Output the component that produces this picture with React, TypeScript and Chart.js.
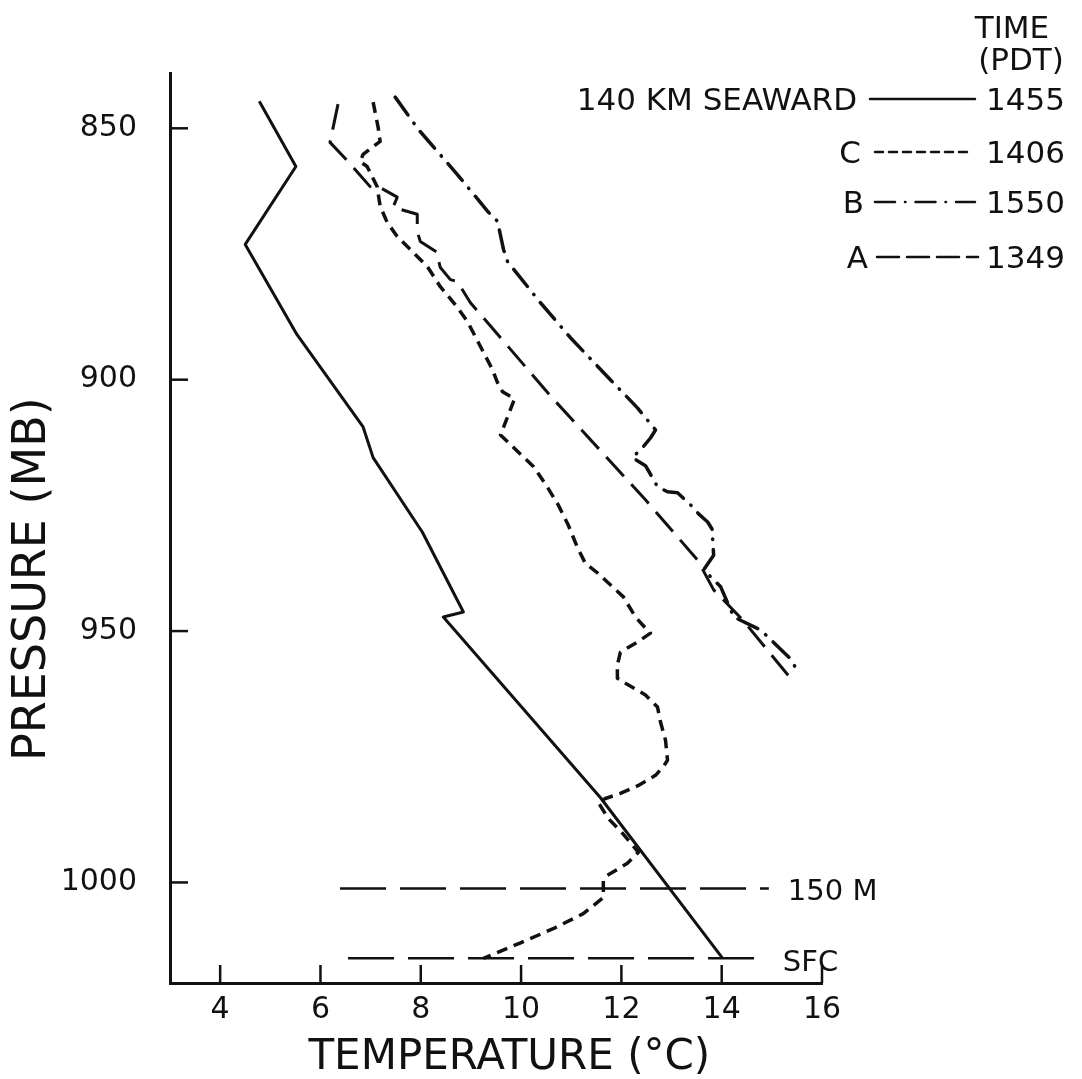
import React, { useEffect, useRef } from "react";
import { Chart, registerables } from "chart.js";

Chart.register(...registerables);

// ---- axes ----
const xTickValues = [4, 6, 8, 10, 12, 14, 16];
const yTickValues = [850, 900, 950, 1000];

// ---- 140 KM SEAWARD (1455 PDT), solid ----
const seawardTemp = [4.78, 5.51, 4.5, 5.53, 6.85, 7.05, 8.03, 8.85, 8.45, 11.58, 14.02];
const seawardPres = [844.6, 857.6, 873.1, 891.0, 909.4, 915.5, 930.3, 946.2, 947.2, 983.1, 1015.1];

// ---- C (1406 PDT), short dashes ----
const cTemp = [
  7.05, 7.15, 7.19, 6.85, 6.79, 6.93, 7.13, 7.19, 7.33, 7.53,
  7.79, 8.13, 8.39, 8.69, 8.93, 9.19, 9.43, 9.53, 9.63, 9.87,
  9.59, 9.85, 10.25, 10.52, 10.74, 10.94, 11.12, 11.28, 11.52, 11.78,
  12.04, 12.28, 12.48, 12.58, 12.32, 11.98, 11.92, 11.92, 12.08, 12.48,
  12.72, 12.78, 12.88, 12.92, 12.84, 12.68, 12.34, 11.98, 11.68, 11.54,
  11.74, 12.02, 12.34, 12.12, 11.72, 11.64, 11.64, 11.64, 11.24, 10.64,
  9.99, 9.25,
];
const cPres = [
  844.8, 849.8, 852.6, 855.2, 856.6, 857.6, 861.6, 865.5, 868.7, 871.5,
  874.1, 877.5, 881.5, 885.1, 888.4, 893.4, 898.0, 900.6, 902.4, 903.8,
  911.0, 913.5, 917.3, 921.3, 924.9, 928.9, 933.3, 936.5, 938.4, 940.8,
  943.2, 947.2, 949.4, 950.4, 952.2, 954.2, 956.8, 959.4, 960.4, 962.7,
  965.1, 968.1, 971.7, 975.7, 976.9, 978.7, 980.7, 982.3, 983.3, 984.1,
  987.3, 990.2, 994.0, 996.2, 998.6, 999.6, 1001.2, 1003.0, 1006.2, 1009.2,
  1012.0, 1015.1,
];

// ---- B (1550 PDT), dash-dot ----
const bTemp = [
  7.49, 7.95, 8.73, 9.35, 9.53, 9.65, 9.73, 10.37, 10.98, 11.78,
  12.32, 12.68, 12.58, 12.44, 12.22, 12.48, 12.62, 12.72, 12.92, 13.12,
  13.38, 13.54, 13.72, 13.82, 13.82, 13.84, 13.64, 13.98, 14.24, 14.78,
  15.34, 15.51,
];
const bPres = [
  843.8, 850.2, 859.2, 866.7, 868.5, 874.1, 876.5, 884.5, 891.6, 900.0,
  905.6, 910.0, 911.6, 913.3, 915.5, 917.1, 919.5, 921.3, 922.3, 922.5,
  924.9, 926.7, 928.3, 929.9, 931.9, 934.9, 937.8, 941.2, 947.2, 949.8,
  955.2, 957.8,
];

// ---- A (1349 PDT), long dashes ----
const aTemp = [
  6.35, 6.19, 6.55, 6.99, 7.19, 7.53, 7.45, 7.93, 7.93, 7.99,
  8.33, 8.35, 8.39, 8.59, 8.73, 8.99, 10.62, 12.48, 13.52, 13.84,
  14.42, 15.44,
];
const aPres = [
  845.2, 852.8, 856.6, 861.6, 861.8, 863.7, 865.7, 867.1, 870.5, 872.5,
  874.7, 876.1, 877.7, 880.1, 880.5, 884.7, 903.6, 923.9, 935.9, 941.8,
  947.8, 960.2,
];

// ---- reference levels ----
const level150mTemp = [6.39, 14.94];
const level150mPres = 1001.2;
const levelSfcTemp = [6.55, 14.74];
const levelSfcPres = 1015.1;
const levelLabels = ["150 M", "SFC"];

// ---- legend ----
const legendLabels = ["140 KM SEAWARD", "C", "B", "A"];
const legendTimes = ["1455", "1406", "1550", "1349"];
const legendTitle = ["TIME", "(PDT)"];

const FONT = '"DejaVu Sans", sans-serif';
const INK = "#111";

const DASH_SOLID: number[] = [];
const DASH_C = [11, 7];
const DASH_B = [22, 10, 0.5, 10];
const DASH_A = [26, 11];
const DASH_LEVEL = [46, 14];

function zip(t: number[], p: number[]) {
  return t.map((x, i) => ({ x, y: p[i] }));
}

export default function App() {
  const ref = useRef<HTMLCanvasElement>(null);

  useEffect(() => {
    const canvas = ref.current;
    if (!canvas) return;

    const annotations = {
      id: "annotations",
      afterDraw(chart: any) {
        const { ctx, chartArea } = chart;
        const xs = chart.scales.x;
        const ys = chart.scales.y;
        ctx.save();
        ctx.strokeStyle = INK;
        ctx.fillStyle = INK;

        // inward tick marks
        ctx.lineWidth = 2.5;
        ctx.setLineDash([]);
        xTickValues.forEach((v) => {
          const px = xs.getPixelForValue(v);
          ctx.beginPath();
          ctx.moveTo(px, chartArea.bottom);
          ctx.lineTo(px, chartArea.bottom - 18);
          ctx.stroke();
        });
        yTickValues.forEach((v) => {
          const py = ys.getPixelForValue(v);
          ctx.beginPath();
          ctx.moveTo(chartArea.left, py);
          ctx.lineTo(chartArea.left + 18, py);
          ctx.stroke();
        });

        // level labels
        ctx.font = `29px ${FONT}`;
        ctx.textAlign = "left";
        ctx.textBaseline = "alphabetic";
        ctx.fillText(
          levelLabels[0],
          xs.getPixelForValue(level150mTemp[1]) + 19,
          ys.getPixelForValue(level150mPres) + 12
        );
        ctx.fillText(
          levelLabels[1],
          xs.getPixelForValue(levelSfcTemp[1]) + 24,
          ys.getPixelForValue(levelSfcPres) + 13
        );

        // legend
        ctx.font = `31px ${FONT}`;
        ctx.textAlign = "center";
        ctx.fillText(legendTitle[0], 1012, 38);
        ctx.fillText(legendTitle[1], 1021, 70);

        const rows = [
          { base: 110, lr: 857, x0: 870, x1: 975, dash: DASH_SOLID },
          { base: 163, lr: 861, x0: 875, x1: 967, dash: [8, 6] },
          { base: 213, lr: 864, x0: 875, x1: 975, dash: [20, 10, 0.5, 10] },
          { base: 268, lr: 868, x0: 877, x1: 978, dash: [22, 8] },
        ];
        rows.forEach((r, i) => {
          ctx.textAlign = "right";
          ctx.fillText(legendLabels[i], r.lr, r.base);
          ctx.fillText(legendTimes[i], 1065, r.base);
          ctx.beginPath();
          ctx.lineWidth = 2.5;
          ctx.lineCap = "round";
          ctx.setLineDash(r.dash);
          ctx.moveTo(r.x0, r.base - 11);
          ctx.lineTo(r.x1, r.base - 11);
          ctx.stroke();
          ctx.setLineDash([]);
        });
        ctx.restore();
      },
    };

    const lineBase = {
      showLine: true,
      fill: false,
      tension: 0,
      pointRadius: 0,
      pointHoverRadius: 0,
      borderColor: INK,
      backgroundColor: INK,
      borderJoinStyle: "round" as const,
    };

    const chart = new Chart(canvas, {
      type: "scatter",
      data: {
        datasets: [
          { ...lineBase, label: legendLabels[0], data: zip(seawardTemp, seawardPres), borderWidth: 3, borderDash: DASH_SOLID },
          { ...lineBase, label: legendLabels[1], data: zip(cTemp, cPres), borderWidth: 3.5, borderDash: DASH_C },
          { ...lineBase, label: legendLabels[2], data: zip(bTemp, bPres), borderWidth: 3.5, borderDash: DASH_B, borderCapStyle: "round" as const },
          { ...lineBase, label: legendLabels[3], data: zip(aTemp, aPres), borderWidth: 3, borderDash: DASH_A },
          { ...lineBase, label: levelLabels[0], data: level150mTemp.map((t) => ({ x: t, y: level150mPres })), borderWidth: 2.5, borderDash: DASH_LEVEL },
          { ...lineBase, label: levelLabels[1], data: levelSfcTemp.map((t) => ({ x: t, y: levelSfcPres })), borderWidth: 2.5, borderDash: DASH_LEVEL },
        ],
      },
      options: {
        responsive: false,
        animation: false,
        devicePixelRatio: 1,
        layout: { padding: { top: 73, right: 260, left: 0, bottom: 0 } },
        plugins: {
          legend: { display: false },
          tooltip: { enabled: false },
        },
        scales: {
          x: {
            type: "linear",
            min: 3,
            max: 16,
            afterBuildTicks: (s: any) => {
              s.ticks = xTickValues.map((v) => ({ value: v }));
            },
            afterFit: (s: any) => {
              s.height = 96;
            },
            grid: { display: false, drawTicks: false },
            border: { display: true, width: 3, color: INK },
            ticks: {
              font: { family: FONT, size: 30 },
              color: INK,
              padding: 9,
              maxRotation: 0,
              autoSkip: false,
              callback: (v: any) => String(v),
            },
            title: {
              display: true,
              text: "  TEMPERATURE (°C)",
              font: { family: FONT, size: 42, lineHeight: 1 },
              color: INK,
              padding: { top: 0, bottom: 0 },
            },
          },
          y: {
            type: "linear",
            reverse: true,
            min: 839,
            max: 1020,
            afterBuildTicks: (s: any) => {
              s.ticks = yTickValues.map((v) => ({ value: v }));
            },
            afterFit: (s: any) => {
              s.width = 170;
            },
            grid: { display: false, drawTicks: false },
            border: { display: true, width: 3, color: INK },
            ticks: {
              font: { family: FONT, size: 30 },
              color: INK,
              padding: 33,
              autoSkip: false,
              callback: (v: any) => String(v),
            },
            title: {
              display: true,
              text: "PRESSURE (MB)       ",
              font: { family: FONT, size: 46, lineHeight: 1 },
              color: INK,
              padding: { top: 10, bottom: 0 },
            },
          },
        },
      },
      plugins: [annotations],
    });

    return () => chart.destroy();
  }, []);

  return (
    <div style={{ position: "fixed", left: 0, top: 0, width: 1082, height: 1079, background: "#fff" }}>
      <canvas ref={ref} width={1082} height={1079} style={{ display: "block" }} />
    </div>
  );
}
